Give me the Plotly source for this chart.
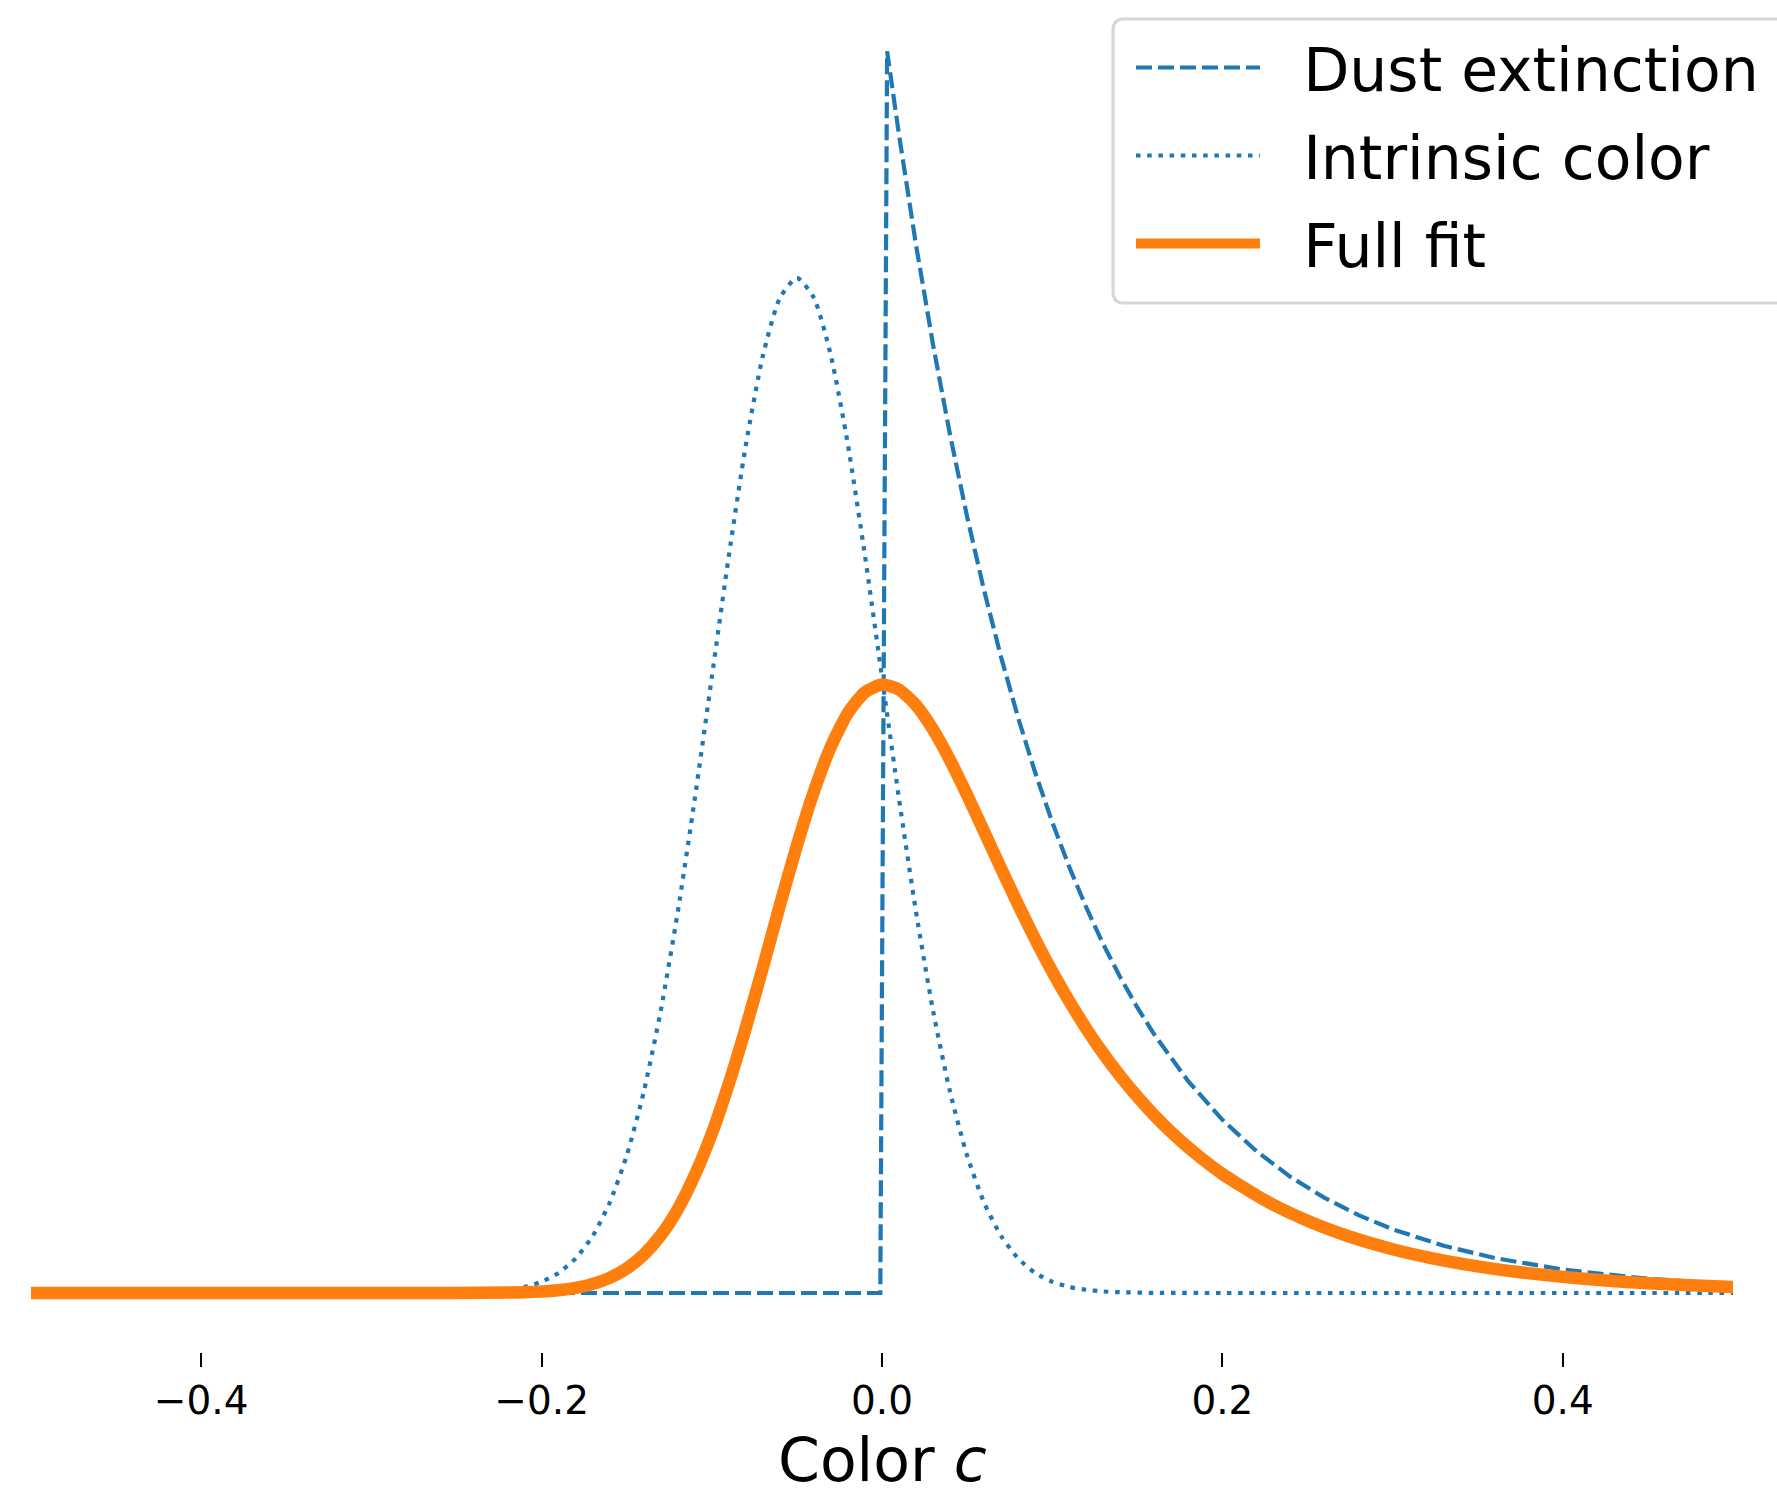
import plotly.graph_objects as go

# ---- data (density units) ----
dust_c = [-0.50, -0.001, 0.003, 0.01, 0.02, 0.03, 0.04, 0.05, 0.06, 0.07, 0.08, 0.09,
          0.10, 0.11, 0.12, 0.13, 0.14, 0.15, 0.16, 0.18, 0.20, 0.22, 0.24, 0.26,
          0.28, 0.30, 0.33, 0.36, 0.40, 0.45, 0.50]
dust_p = [0.0, 0.0, 9.70, 9.048, 8.187, 7.408, 6.703, 6.065, 5.488, 4.966, 4.493, 4.066,
          3.679, 3.329, 3.012, 2.725, 2.466, 2.231, 2.019, 1.653, 1.353, 1.108, 0.907, 0.743,
          0.608, 0.498, 0.369, 0.273, 0.183, 0.111, 0.067]

intr_c = [-0.50, -0.30, -0.25, -0.24, -0.23, -0.22, -0.21, -0.20, -0.19, -0.18, -0.17,
          -0.16, -0.15, -0.14, -0.13, -0.12, -0.11, -0.10, -0.09, -0.08, -0.07, -0.06,
          -0.05, -0.04, -0.03, -0.02, -0.01, 0.00, 0.01, 0.02, 0.03, 0.04, 0.05, 0.06,
          0.07, 0.08, 0.09, 0.10, 0.11, 0.12, 0.13, 0.14, 0.16, 0.20, 0.30, 0.40, 0.50]
intr_p = [0.0, 0.0, 0.003, 0.006, 0.012, 0.025, 0.047, 0.088, 0.157, 0.270, 0.445,
          0.705, 1.073, 1.570, 2.205, 2.977, 3.860, 4.810, 5.759, 6.625, 7.322, 7.774,
          7.931, 7.774, 7.322, 6.625, 5.759, 4.810, 3.860, 2.977, 2.205, 1.570, 1.073, 0.705,
          0.445, 0.270, 0.157, 0.088, 0.047, 0.025, 0.012, 0.006, 0.001, 0.0, 0.0, 0.0, 0.0]

fit_c = [-0.50, -0.30, -0.25, -0.22, -0.21, -0.20, -0.19, -0.18, -0.17, -0.16, -0.15,
         -0.14, -0.13, -0.12, -0.11, -0.10, -0.09, -0.08, -0.07, -0.06, -0.05, -0.04,
         -0.03, -0.02, -0.01, 0.00, 0.01, 0.02, 0.03, 0.04, 0.05, 0.06, 0.07, 0.08,
         0.09, 0.10, 0.11, 0.12, 0.13, 0.14, 0.15, 0.16, 0.17, 0.18, 0.19, 0.20,
         0.225, 0.25, 0.275, 0.30, 0.325, 0.35, 0.375, 0.40, 0.425, 0.45, 0.475, 0.50]
fit_p = [0.0, 0.0, 0.0003, 0.003, 0.006, 0.012, 0.022, 0.040, 0.070, 0.118, 0.191,
         0.299, 0.450, 0.654, 0.921, 1.245, 1.635, 2.073, 2.542, 3.030, 3.496, 3.918,
         4.269, 4.532, 4.694, 4.753, 4.714, 4.593, 4.402, 4.162, 3.891, 3.604, 3.315, 3.033,
         2.764, 2.512, 2.280, 2.066, 1.871, 1.694, 1.534, 1.388, 1.256, 1.136, 1.028, 0.930,
         0.724, 0.564, 0.439, 0.342, 0.267, 0.208, 0.162, 0.126, 0.098, 0.076, 0.060, 0.046]

series_names = ["Dust extinction", "Intrinsic color", "Full fit"]
tick_vals = [-0.4, -0.2, 0.0, 0.2, 0.4]
tick_text = ["\u22120.4", "\u22120.2", "0.0", "0.2", "0.4"]
x_title = "Color <i>c</i>"

BLUE = "#1f77b4"
ORANGE = "#ff7f0e"
FONT = "DejaVu Sans"

W, H = 1777, 1495
ML, MR, MT, MB = 31, 44, 30, 143
PW, PH = W - ML - MR, H - MT - MB


def px2paper_x(px):
    return (px - ML) / PW


def px2paper_y(py):
    return (H - MB - py) / PH


GAP = "\u00a0\u00a0"  # space between legend handle and label, as in the reference

fig = go.Figure()
fig.add_trace(go.Scatter(x=dust_c, y=dust_p, mode="lines", name=GAP + series_names[0],
                         legendgroup="a",
                         line=dict(color=BLUE, width=4.2, dash="16px,6px")))
fig.add_trace(go.Scatter(x=intr_c, y=intr_p, mode="lines", name=GAP + series_names[1],
                         legendgroup="b",
                         line=dict(color=BLUE, width=4.2, dash="4.5px,6.7px",
                                   shape="spline", smoothing=0.6)))
fig.add_trace(go.Scatter(x=fit_c, y=fit_p, mode="lines", name=GAP + series_names[2],
                         legendgroup="c",
                         line=dict(color=ORANGE, width=12.5, shape="spline", smoothing=0.6)))

# legend frame (rounded, running off the right edge like the reference)
fx0, fx1 = px2paper_x(1113), px2paper_x(1800)
fy0, fy1 = px2paper_y(303), px2paper_y(19)
rx, ry = 11 / PW, 11 / PH
frame_path = (f"M {fx0+rx},{fy1} L {fx1},{fy1} L {fx1},{fy0} L {fx0+rx},{fy0} "
              f"Q {fx0},{fy0} {fx0},{fy0+ry} L {fx0},{fy1-ry} Q {fx0},{fy1} {fx0+rx},{fy1} Z")

fig.update_layout(
    width=W, height=H,
    margin=dict(l=ML, r=MR, t=MT, b=MB),
    paper_bgcolor="white", plot_bgcolor="white",
    font=dict(family=FONT, color="black"),
    showlegend=True,
    legend=dict(
        x=px2paper_x(1131), y=px2paper_y(22), xanchor="left", yanchor="top",
        bgcolor="rgba(0,0,0,0)", borderwidth=0,
        font=dict(size=60, family=FONT, color="black"),
        tracegroupgap=7, itemwidth=124,
    ),
    shapes=[dict(type="path", xref="paper", yref="paper", path=frame_path,
                 line=dict(color="#d6d6d6", width=3),
                 fillcolor="rgba(255,255,255,0.8)", layer="above")],
    annotations=[dict(text=x_title, xref="x", yref="paper", x=0.0, y=px2paper_y(1460),
                      xanchor="center", yanchor="middle", showarrow=False, borderpad=0,
                      font=dict(size=60, family=FONT, color="black"))],
    xaxis=dict(
        range=[-0.5, 0.5], showgrid=False, zeroline=False, showline=False,
        tickmode="array", tickvals=tick_vals, ticktext=tick_text,
        ticks="outside", ticklen=14, tickwidth=2.3, tickcolor="black",
        tickfont=dict(size=39, family=FONT, color="black"),
    ),
    yaxis=dict(range=[-0.461, 9.867], visible=False, showgrid=False, zeroline=False),
)

fig.write_html("out.html")
